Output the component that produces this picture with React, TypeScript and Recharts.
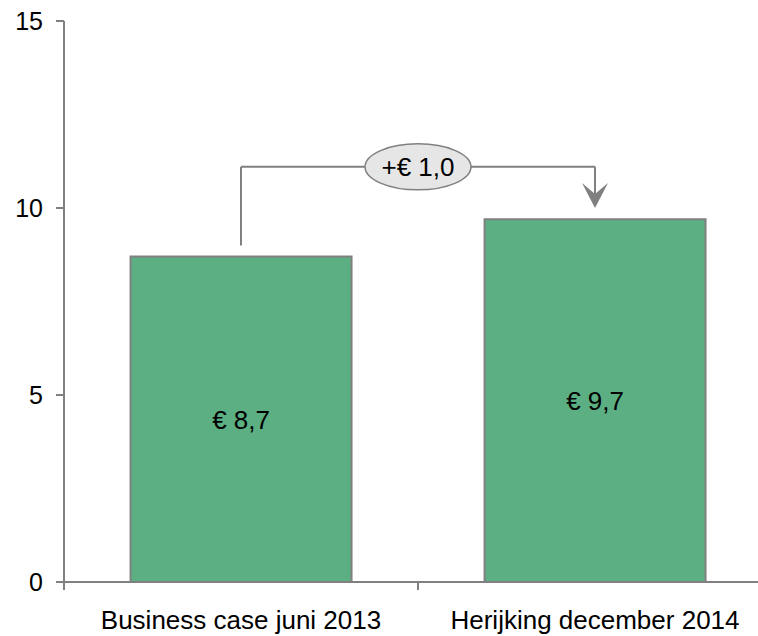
import { BarChart, Bar, XAxis, YAxis, LabelList, ReferenceLine } from 'recharts'

const categories = ['Business case juni 2013', 'Herijking december 2014']
const values = [8.7, 9.7]
const yTicks = [0, 5, 10, 15]

// connector levels in data units
const connectorTop = 11.1
const connectorStart = 9.0
const arrowTip = 10.0

const FONT = 'Liberation Sans, Arial, sans-serif'
const GRAY = '#808080'

const data = categories.map((name, i) => ({ name, value: values[i] }))
const fmt = (v: number) => `€ ${v.toFixed(1).replace('.', ',')}`
const delta = values[1] - values[0]

// category label + tick marks on the band boundaries
const CategoryTick = (props: any) => {
    const { x, y, payload, index, visibleTicksCount, width } = props
    const half = payload && typeof payload.offset === 'number' && payload.offset > 0
        ? payload.offset
        : width / visibleTicksCount / 2
    const axisY = y
    return (
        <g>
            <line x1={x - half} y1={axisY} x2={x - half} y2={axisY + 8} stroke={GRAY} strokeWidth={2} />
            {index === visibleTicksCount - 1 && (
                <line x1={x + half} y1={axisY} x2={x + half} y2={axisY + 8} stroke={GRAY} strokeWidth={2} />
            )}
            <text x={x} y={axisY + 47} textAnchor="middle" fontSize={26} fontFamily={FONT} fill="#000">
                {payload.value}
            </text>
        </g>
    )
}

const EllipseLabel = (props: any) => {
    const vb = props.viewBox || {}
    const cx = vb.x + (vb.width || 0) / 2
    const cy = vb.y + (vb.height || 0) / 2
    return (
        <g>
            <ellipse cx={cx} cy={cy} rx={53} ry={23} fill="#E6E6E6" stroke={GRAY} strokeWidth={1.5} />
            <text x={cx} y={cy} dy="0.36em" textAnchor="middle" fontSize={26} fontFamily={FONT} fill="#000">
                {`+€ ${delta.toFixed(1).replace('.', ',')}`}
            </text>
        </g>
    )
}

const ArrowLine = (p: any) => {
    const { x1, y1, x2, y2 } = p
    return (
        <g>
            <line x1={x1} y1={y1} x2={x2} y2={y2 - 13} stroke={GRAY} strokeWidth={2} />
            <path d={`M${x2},${y2} L${x2 - 13},${y2 - 25} L${x2},${y2 - 14} L${x2 + 13},${y2 - 25} Z`} fill={GRAY} />
        </g>
    )
}

export default function App() {
    return (
        <div style={{ position: 'fixed', top: 0, left: 0, width: 758, height: 636, overflow: 'hidden', background: '#fff' }}>
            <BarChart width={800} height={636} data={data} margin={{ top: 21, right: 28, left: 0, bottom: 0 }} barCategoryGap="18.8%">
                <XAxis
                    dataKey="name"
                    tickLine={false}
                    tickSize={0}
                    tickMargin={0}
                    height={54}
                    interval={0}
                    stroke={GRAY}
                    strokeWidth={2}
                    tick={<CategoryTick />}
                />
                <YAxis
                    domain={[0, 15]}
                    ticks={yTicks}
                    width={64}
                    tickSize={8}
                    tickMargin={13}
                    stroke={GRAY}
                    strokeWidth={2}
                    tick={{ fill: '#000', fontSize: 25, fontFamily: FONT }}
                />
                <Bar dataKey="value" fill="#5BAF82" stroke={GRAY} strokeWidth={2} isAnimationActive={false}>
                    <LabelList dataKey="value" position="center" formatter={(v: any) => fmt(Number(v))} fill="#000" fontSize={26} fontFamily={FONT} />
                </Bar>
                <ReferenceLine segment={[{ x: categories[0], y: connectorStart }, { x: categories[0], y: connectorTop }]} stroke={GRAY} strokeWidth={2} />
                <ReferenceLine segment={[{ x: categories[0], y: connectorTop }, { x: categories[1], y: connectorTop }]} stroke={GRAY} strokeWidth={2} label={EllipseLabel} />
                <ReferenceLine segment={[{ x: categories[1], y: connectorTop }, { x: categories[1], y: arrowTip }]} stroke={GRAY} strokeWidth={2} shape={ArrowLine} />
            </BarChart>
        </div>
    )
}
